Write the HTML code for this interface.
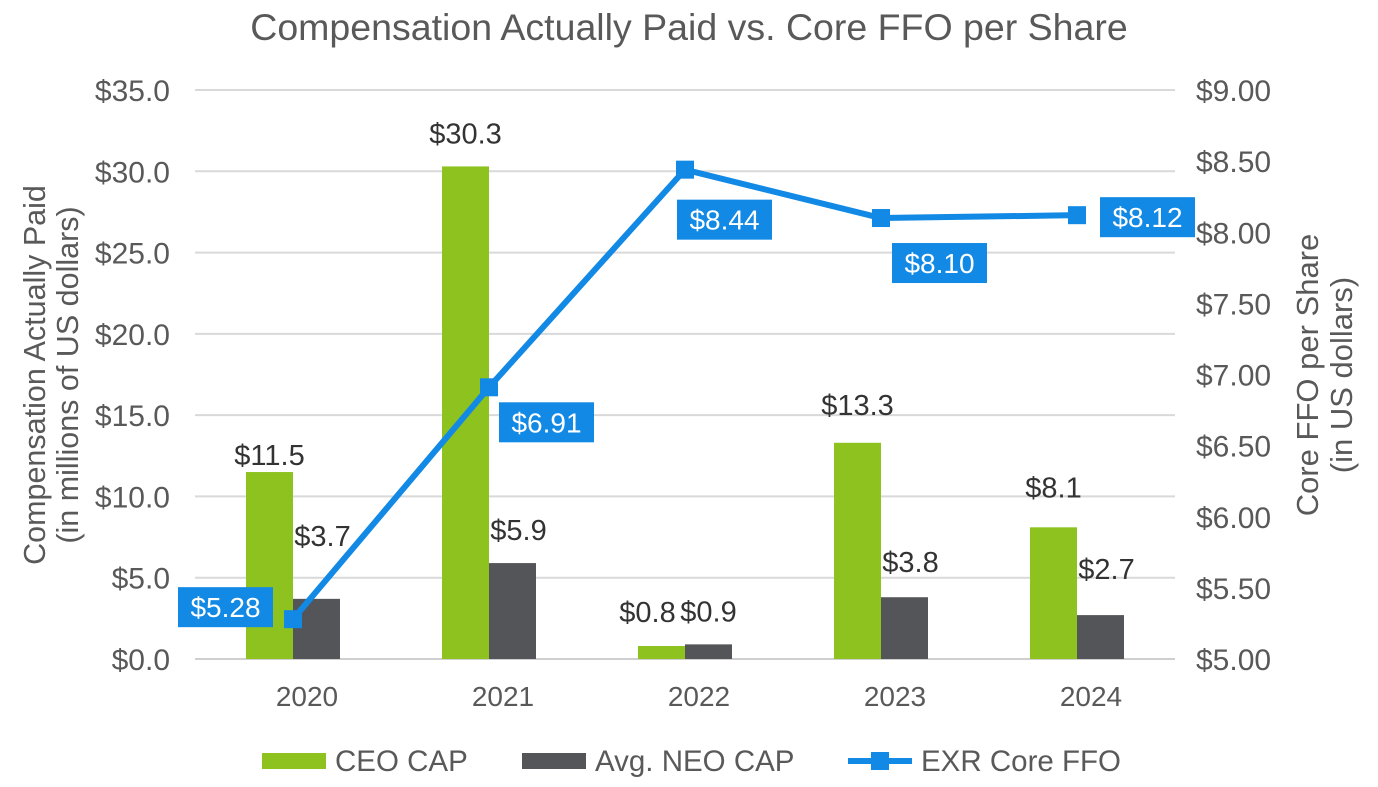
<!DOCTYPE html>
<html><head><meta charset="utf-8"><style>
body{margin:0;background:#fff;}
svg{display:block;font-family:"Liberation Sans",Arial,sans-serif;}
</style></head><body>
<svg id="chart" width="1378" height="787">
<text x="689" y="40" text-anchor="middle" font-size="37.5" fill="#595959">Compensation Actually Paid vs. Core FFO per Share</text>
<g id="grid"></g><g id="bars"></g><g id="line"></g><g id="labels"></g>
<text transform="translate(45,375) rotate(-90)" text-anchor="middle" font-size="30.5" fill="#595959"><tspan x="0" dy="0">Compensation Actually Paid</tspan><tspan x="0" dy="33">(in millions of US dollars)</tspan></text>
<text transform="translate(1318,375) rotate(-90)" text-anchor="middle" font-size="31" fill="#595959"><tspan x="0" dy="0">Core FFO per Share</tspan><tspan x="0" dy="34">(in US dollars)</tspan></text>
<g>
<rect x="262" y="753" width="64" height="16" fill="#8DC21F"/>
<text x="335" y="771" font-size="29.5" fill="#595959">CEO CAP</text>
<rect x="522" y="753" width="64" height="16" fill="#545559"/>
<text x="595" y="771" font-size="29.5" fill="#595959">Avg. NEO CAP</text>
<line x1="848" y1="761" x2="912" y2="761" stroke="#1189E5" stroke-width="6"/>
<rect x="871" y="752" width="18" height="18" fill="#1189E5"/>
<text x="921" y="771" font-size="29.5" fill="#595959">EXR Core FFO</text>
</g>
</svg>
<script>
const years=["2020","2021","2022","2023","2024"];
const ceo=[11.5,30.3,0.8,13.3,8.1];
const neo=[3.7,5.9,0.9,3.8,2.7];
const ffo=[5.28,6.91,8.44,8.10,8.12];
const leftTicks=[0,5,10,15,20,25,30,35];
const rightTicks=[5,5.5,6,6.5,7,7.5,8,8.5,9];
const NS="http://www.w3.org/2000/svg";
const y0=659,yTop=90,x0=195,x1=1175;
const yL=v=>y0-(v/35)*(y0-yTop);
const yR=v=>y0-((v-5)/4)*(y0-yTop);
const band=(x1-x0)/years.length;
const xC=i=>x0+band*(i+0.5)+14;
const ceoLabOff=[-17,-33,-34,-38,-40];
const neoLabOff=[-63,-33,-33,-35,-46];
function mk(tag,attrs,parent,text){const e=document.createElementNS(NS,tag);for(const k in attrs)e.setAttribute(k,attrs[k]);if(text!=null)e.textContent=text;document.getElementById(parent).appendChild(e);return e;}
leftTicks.forEach(t=>{
 const l=mk('line',{x1:x0,x2:x1,y1:yL(t),y2:yL(t),stroke:t===0?'#cfcfcf':'#d9d9d9','stroke-width':2},'grid');
 
 
 const tx=mk('text',{x:170,y:yL(t)+11,'text-anchor':'end','font-size':30,fill:'#595959'},'grid','$'+t.toFixed(1));
 
 
});
rightTicks.forEach(t=>{
 const tx=mk('text',{x:1196,y:yR(t)+11,'font-size':30,fill:'#595959'},'grid','$'+t.toFixed(2));
 
 
});
const bw=47;
years.forEach((yr,i)=>{
 const c=xC(i);
 const tx=mk('text',{x:c,y:706,'text-anchor':'middle','font-size':28,fill:'#595959'},'grid',yr);
 
 
 const b1=mk('rect',{x:c-bw-14,y:yL(ceo[i]),width:bw,height:y0-yL(ceo[i]),fill:'#8DC21F'},'bars');
 
 
 const b2=mk('rect',{x:c-14,y:yL(neo[i]),width:bw,height:y0-yL(neo[i]),fill:'#545559'},'bars');
 
 
 const l1=mk('text',{x:c-bw/2-14-(i===2?14:0),y:yL(ceo[i])+ceoLabOff[i]+10,'text-anchor':'middle','font-size':29,fill:'#333'},'labels','$'+ceo[i].toFixed(1));
 
 
 const l2=mk('text',{x:c+bw/2-14+(i===2?0:6),y:yL(neo[i])+neoLabOff[i]+10,'text-anchor':'middle','font-size':29,fill:'#333'},'labels','$'+neo[i].toFixed(1));
 
 
});
const pts=ffo.map((v,i)=>[xC(i)-14,yR(v)]);
const pl=mk('polyline',{points:pts.map(p=>p.join(',')).join(' '),fill:'none',stroke:'#1189E5','stroke-width':6,'stroke-linejoin':'round'},'line');


const boxOff=[[-115,-32],[10,15],[-8,30],[11,25],[23,-18]];
pts.forEach((p,i)=>{
 const m=mk('rect',{x:p[0]-9,y:p[1]-9,width:18,height:18,fill:'#1189E5'},'line');
 
 
 const bx=p[0]+boxOff[i][0],by=p[1]+boxOff[i][1];
 const r=mk('rect',{x:bx,y:by,width:95,height:40,fill:'#1189E5'},'labels');
 
 
 const t=mk('text',{x:bx+47.5,y:by+30,'text-anchor':'middle','font-size':28,fill:'#fff'},'labels','$'+ffo[i].toFixed(2));
 
 
});
</script>
</body></html>
